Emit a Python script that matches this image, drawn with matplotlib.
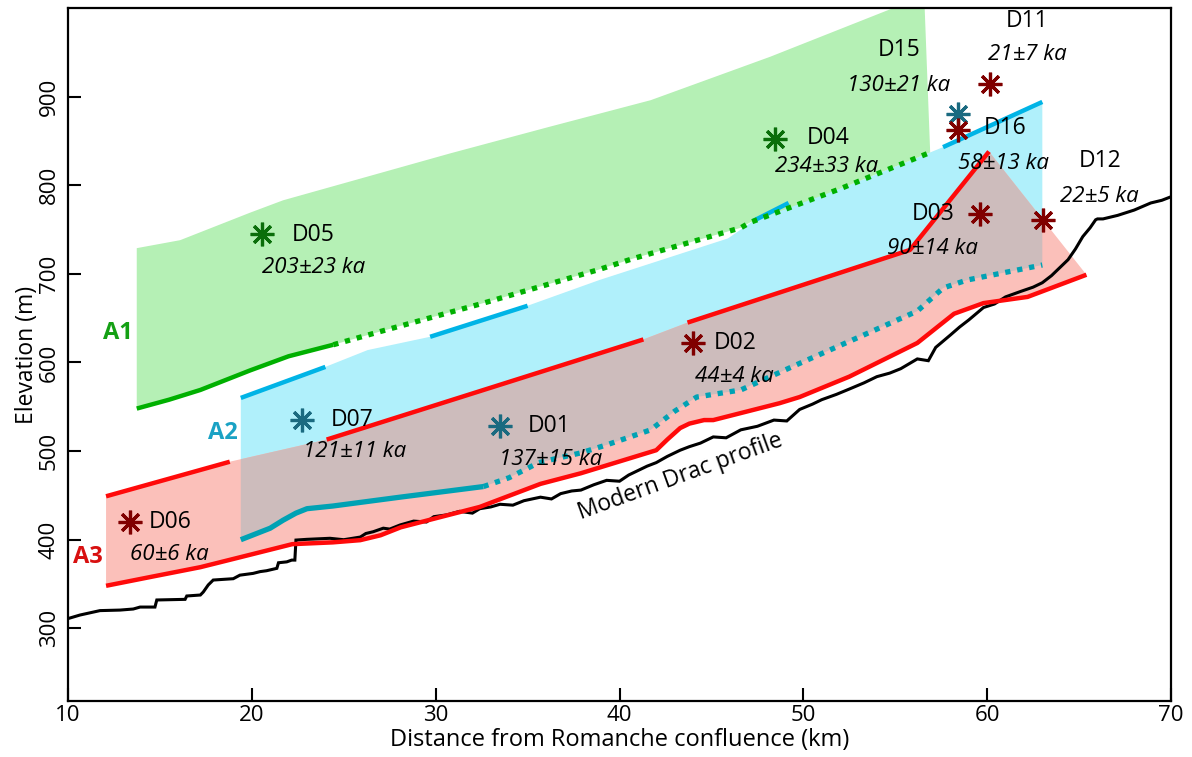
import matplotlib
matplotlib.use("Agg")
import matplotlib.pyplot as plt
from matplotlib.patches import Polygon
import numpy as np

plt.rcParams['font.family'] = ['Open Sans', 'DejaVu Sans']

# ---------------- data ----------------
# Modern Drac river long profile (km, m)
profile_x = [10.0, 10.65, 11.74, 12.83, 13.55, 13.92, 14.73, 14.83, 16.37, 16.46,
             17.2, 17.36, 17.63, 17.9, 18.99, 19.35, 20.07, 20.45, 20.8, 21.36,
             21.45, 21.9, 22.17, 22.34, 22.38, 22.4, 22.98, 24.25, 25.0, 25.9,
             26.2, 26.6, 27.15, 27.5, 28.06, 28.8, 29.5, 29.9, 30.6, 31.3,
             32.0, 32.4, 33.0, 33.5, 34.2, 34.8, 35.7, 36.3, 36.8, 37.4,
             37.9, 38.6, 39.3, 40.0, 40.5, 41.0, 41.5, 42.0, 42.6, 43.3,
             43.8, 44.4, 45.1, 45.8, 46.6, 47.5, 48.4, 49.1, 49.8, 50.5,
             51.0, 51.8, 52.5, 53.3, 54.0, 54.7, 55.3, 56.2, 56.8, 57.2,
             57.6, 58.0, 58.5, 59.0, 59.8, 60.4, 61.0, 61.8, 62.5, 63.0,
             63.5, 64.0, 64.4, 64.8, 65.2, 65.6, 65.9, 66.0, 66.3, 67.1,
             68.0, 68.9, 69.5, 70.0]
profile_y = [311, 315, 320, 320.6, 321.8, 324, 324, 332, 332.7, 336.5,
             337.6, 341, 349, 354.5, 356, 360, 362, 364, 365, 367.7,
             374, 375, 377, 377, 392, 399.6, 400.4, 401.6, 400, 403,
             407, 409, 413, 412, 416.6, 421, 420, 426, 428, 432,
             430, 435, 437, 440, 439, 444, 448, 446, 452, 455,
             456, 462, 467, 466, 473, 478, 483, 487, 494, 501,
             505, 509, 516, 515, 524, 528, 535, 534, 547, 553,
             558, 564, 570, 577, 584, 588, 593, 604, 602, 617,
             624, 631, 640, 648, 662, 666, 674, 680, 685, 690,
             698, 708, 716, 728, 742, 752, 761, 762, 762, 766,
             772, 780, 783, 787]

# A1 terrace
a1_top_x = [13.74, 16.1, 19.9, 21.7, 30.8, 36.2, 41.7, 48.2, 54.9, 56.6]
a1_top_y = [729, 738, 769, 783, 836, 866, 896, 945, 1000, 1000]
a1_solid_x = [13.74, 15.5, 17.2, 19.9, 22.0, 24.43]
a1_solid_y = [548, 558, 569, 591, 607, 620]
a1_dot_x = [24.43, 27.0, 32.6, 38.9, 40.7, 46.6, 47.1, 52.0, 56.9]
a1_dot_y = [620, 635, 667, 705, 717, 752, 758, 796, 837]

# A2 terrace
a2_top_x = [19.4, 24.0, 26.3, 29.7, 35.0, 38.9, 45.9, 47.3, 49.2, 52.0, 56.9, 57.6, 63.0]
a2_top_y = [560, 595, 614, 629, 664, 693, 740, 760, 780, 796, 837, 843, 894]
a2_seg_x = [[19.4, 24.0], [29.7, 35.0], [47.3, 49.2], [57.6, 63.0]]
a2_seg_y = [[560, 595], [629, 664], [760, 780], [843, 894]]
a2_solid_x = [19.4, 21.0, 21.7, 22.4, 23.0, 24.4, 28.06, 32.6]
a2_solid_y = [400, 413, 422, 430, 435, 438, 448, 460]
a2_dot_x = [32.6, 34.0, 35.6, 37.9, 39.3, 41.7, 43.0, 44.2, 46.6, 49.8, 53.5, 56.2, 57.6, 58.9, 63.0]
a2_dot_y = [460, 470, 487, 498, 507, 524, 545, 561, 569, 599, 633, 658, 684, 693, 710]

# A3 terrace
a3_seg_x = [[12.07, 18.8], [24.07, 41.3], [43.7, 55.8, 60.1]]
a3_seg_y = [[449, 488], [513, 626], [645, 727, 838]]
a3_apex_x = [60.1, 65.4]
a3_apex_y = [838, 699]
a3_low_x = [12.07, 14.5, 17.2, 19.9, 22.2, 24.4, 25.9, 27.0, 28.1, 32.4, 35.7, 37.9,
            42.0, 42.6, 43.3, 43.8, 44.6, 45.1, 48.7, 49.8, 52.5, 56.2, 58.2, 59.8,
            62.2, 65.4]
a3_low_y = [348, 358, 369, 383, 395, 397, 399.5, 405, 414, 437, 463, 475,
            501, 513, 526, 531, 535, 535, 554, 561, 584, 622, 655, 667,
            674, 699]

# Samples
sample_names = ['D05', 'D04', 'D07', 'D01', 'D15', 'D16', 'D11', 'D03', 'D12', 'D02', 'D06']
sample_ages = ['203±23 ka', '234±33 ka', '121±11 ka', '137±15 ka', '130±21 ka', '58±13 ka',
               '21±7 ka', '90±14 ka', '22±5 ka', '44±4 ka', '60±6 ka']
sample_level = ['A1', 'A1', 'A2', 'A2', 'A2', 'A3', 'A3', 'A3', 'A3', 'A3', 'A3']
sample_x = [20.55, 48.47, 22.73, 33.5, 58.4, 58.42, 60.16, 59.6, 63.05, 44.0, 13.37]
sample_y = [744.6, 852, 535, 528, 880, 862, 914, 767, 761, 622, 420]

# label anchor positions (left edge, vertical centre)
name_pos = [(22.19, 744), (50.2, 853), (24.3, 535), (35.0, 528), (54.07, 953), (59.84, 865),
            (61.03, 985), (55.9, 767), (65.0, 827), (45.1, 622), (14.4, 420)]
age_pos = [(20.55, 707), (48.47, 821), (22.8, 499), (33.45, 490), (52.4, 913), (58.4, 825),
           (60.05, 947), (54.56, 729), (63.97, 787), (44.1, 584), (13.37, 383)]

level_names = ['A1', 'A2', 'A3']
level_label_pos = [(12.7, 633), (18.4, 520), (11.1, 381)]

x_ticks = [10, 20, 30, 40, 50, 60, 70]
y_ticks = [300, 400, 500, 600, 700, 800, 900]

# ---------------- styles ----------------
green_fill = '#b5f0b5'
green_line = '#00b000'
cyan_fill = '#b0f0fb'
cyan_line = '#00b4e6'
teal_line = '#00a2b4'
pink_fill = '#fbc0ba'
overlap_fill = '#cdbcbc'
red_line = '#ff0a0a'
marker_col = {'A1': '#0a6e0a', 'A2': '#1a6a80', 'A3': '#800000'}
level_col = {'A1': '#14a014', 'A2': '#1aa2c4', 'A3': '#d81010'}

fig = plt.figure(figsize=(11.92, 7.57), dpi=100)
ax = fig.add_axes([68 / 1192, 56 / 757, 1103 / 1192, 693 / 757])

# ---- fills ----
a2_poly_x = a2_top_x + [63.0] + a2_dot_x[::-1] + a2_solid_x[::-1]
a2_poly_y = a2_top_y + [710] + a2_dot_y[::-1] + a2_solid_y[::-1]
a2_patch = Polygon(np.column_stack([a2_poly_x, a2_poly_y]), closed=True,
                   facecolor=cyan_fill, edgecolor='none', zorder=1)
ax.add_patch(a2_patch)

a3_top_x = sum(a3_seg_x, []) + a3_apex_x[1:]
a3_top_y = sum(a3_seg_y, []) + a3_apex_y[1:]
a3_poly = np.column_stack([a3_top_x + a3_low_x[::-1], a3_top_y + a3_low_y[::-1]])
ax.add_patch(Polygon(a3_poly, closed=True, facecolor=pink_fill, edgecolor='none', zorder=2))
ov = Polygon(a3_poly, closed=True, facecolor=overlap_fill, edgecolor='none', zorder=3)
ax.add_patch(ov)
ov.set_clip_path(a2_patch)

a1_poly_x = a1_top_x + [56.9] + a1_dot_x[::-1] + a1_solid_x[::-1]
a1_poly_y = a1_top_y + [837] + a1_dot_y[::-1] + a1_solid_y[::-1]
ax.add_patch(Polygon(np.column_stack([a1_poly_x, a1_poly_y]), closed=True,
                     facecolor=green_fill, edgecolor='none', zorder=1))

# ---- lines ----
ax.plot(profile_x, profile_y, color='black', lw=2.2, zorder=4, solid_joinstyle='miter')

dot = (0, (1.0, 1.3))
ax.plot(a1_solid_x, a1_solid_y, color=green_line, lw=3.2, zorder=5, solid_capstyle='butt')
ax.plot(a1_dot_x, a1_dot_y, color=green_line, lw=3.8, ls=dot, zorder=6, dash_capstyle='butt')

for sx, sy in zip(a2_seg_x, a2_seg_y):
    ax.plot(sx, sy, color=cyan_line, lw=3.2, zorder=5, solid_capstyle='butt')
ax.plot(a2_solid_x, a2_solid_y, color=teal_line, lw=3.8, zorder=5, solid_capstyle='butt')
ax.plot(a2_dot_x, a2_dot_y, color=teal_line, lw=3.8, ls=dot, zorder=5, dash_capstyle='butt')

for sx, sy in zip(a3_seg_x, a3_seg_y):
    ax.plot(sx, sy, color=red_line, lw=3.2, zorder=5, solid_capstyle='butt')
ax.plot(a3_low_x, a3_low_y, color=red_line, lw=3.2, zorder=5, solid_capstyle='butt')

# ---- samples ----
for i, name in enumerate(sample_names):
    c = marker_col[sample_level[i]]
    ax.plot(sample_x[i], sample_y[i], marker=(8, 2, 0), ms=17, mew=2.3,
            color=c, ls='none', zorder=8)
    ax.text(name_pos[i][0], name_pos[i][1], name, fontsize=16.5, ha='left',
            va='center', zorder=9)
    ax.text(age_pos[i][0], age_pos[i][1], sample_ages[i], fontsize=16, style='italic',
            ha='left', va='center', zorder=9)

for lv, (lx, ly) in zip(level_names, level_label_pos):
    ax.text(lx, ly, lv, fontsize=17, fontweight='bold', color=level_col[lv],
            ha='center', va='center', zorder=9)

ax.text(43.3, 471, 'Modern Drac profile', fontsize=16.5, rotation=20,
        rotation_mode='anchor', ha='center', va='center', zorder=9)

# ---- axes ----
ax.set_xlim(10, 70)
ax.set_ylim(218, 1000)
ax.set_xticks(x_ticks)
ax.set_yticks(y_ticks)
ax.set_yticklabels([str(v) for v in y_ticks], rotation=90, va='center')
ax.tick_params(direction='in', length=9.5, width=1.5, labelsize=16)
ax.tick_params(axis='y', pad=6)
ax.tick_params(axis='x', pad=3)
for s in ax.spines.values():
    s.set_linewidth(1.6)
ax.set_xlabel('Distance from Romanche confluence (km)', fontsize=17, labelpad=1.5)
ax.set_ylabel('Elevation (m)', fontsize=16.5, labelpad=0)

fig.savefig('out.png', dpi=100)
